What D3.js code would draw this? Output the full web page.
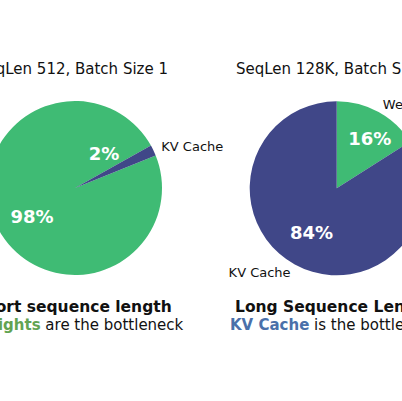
<!DOCTYPE html>
<html>
<head>
<meta charset="utf-8">
<script src="https://cdn.jsdelivr.net/npm/d3@7/dist/d3.min.js"></script>
<style>
  html, body { margin: 0; padding: 0; background: #fff; }
  svg { display: block; font-family: "DejaVu Sans", sans-serif; }
</style>
</head>
<body>
<svg id="chart" width="402" height="401"></svg>
<script>
// Memory split, two scenarios.
const categories = ["Weights", "KV Cache"];
const shortSeqValues = [98, 2];
const longSeqValues = [16, 84];
const titles = ["SeqLen 512, Batch Size 1", "SeqLen 128K, Batch Size 1"];
const headlines = ["Short sequence length", "Long Sequence Length"];
const bottleneckCats = ["Weights", "KV Cache"];
const bottleneckTail = [" are the bottleneck", " is the bottleneck"];

const colours = { "Weights": "#3fbb74", "KV Cache": "#404788" };
const textColours = { "Weights": "#62a352", "KV Cache": "#4a70aa" };

const svg = d3.select("#chart");
const R = 87;
const deg = Math.PI / 180;

// One panel per scenario. Pie centres / start angles tuned to the reference crop.
const panels = [
  { values: shortSeqValues, cx: 75, cy: 188, start: 68 * deg,
    title: titles[0], titleX: 168, titleAnchor: "end",
    pctNudge: [[4, 6], [-18, -12]] },
  { values: longSeqValues, cx: 336.7, cy: 188.3, start: 0,
    title: titles[1], titleX: 236, titleAnchor: "start",
    pctNudge: [[8, -4], [0, -2]] }
];

const arc = d3.arc().innerRadius(0).outerRadius(R);

panels.forEach((p) => {
  const pie = d3.pie().sort(null).startAngle(p.start).endAngle(p.start + 2 * Math.PI);
  const rows = categories.map((c, i) => ({ cat: c, v: p.values[i] }));
  const arcs = pie.value((d) => d.v)(rows);
  const g = svg.append("g").attr("transform", `translate(${p.cx},${p.cy})`);

  g.selectAll("path")
    .data(arcs)
    .join("path")
    .attr("d", arc)
    .attr("fill", (d) => colours[d.data.cat]);

  // Percent labels at 0.6 r on the mid-angle (with a small nudge).
  g.selectAll("text.pct")
    .data(arcs)
    .join("text")
    .attr("class", "pct")
    .each(function (d, i) {
      const mid = (d.startAngle + d.endAngle) / 2;
      const [x, y] = d3.pointRadial(mid, R * 0.6);
      d3.select(this)
        .attr("x", x + p.pctNudge[i][0])
        .attr("y", y + p.pctNudge[i][1]);
    })
    .attr("text-anchor", "middle")
    .attr("dy", "0.36em")
    .attr("font-size", 18)
    .attr("font-weight", "bold")
    .attr("fill", "#fff")
    .text((d) => `${d.data.v}%`);

  // Category labels at 1.1 r, anchored away from the pie.
  g.selectAll("text.cat")
    .data(arcs)
    .join("text")
    .attr("class", "cat")
    .each(function (d) {
      const mid = (d.startAngle + d.endAngle) / 2;
      const [x, y] = d3.pointRadial(mid, R * 1.1);
      d3.select(this)
        .attr("x", x)
        .attr("y", y)
        .attr("text-anchor", x > 0 ? "start" : "end");
    })
    .attr("dy", "0.36em")
    .attr("font-size", 13)
    .attr("fill", "#111")
    .text((d) => d.data.cat);

  svg.append("text")
    .attr("x", p.titleX)
    .attr("y", 74)
    .attr("text-anchor", p.titleAnchor)
    .attr("font-size", 15)
    .attr("fill", "#111")
    .text(p.title);
});

// Captions under the pies.
const captions = [
  { x1: 171.7, x2: 183.3, anchor: "end" },
  { x1: 235, x2: 230, anchor: "start" }
];
captions.forEach((c, i) => {
  svg.append("text")
    .attr("x", c.x1)
    .attr("y", 311.5)
    .attr("text-anchor", c.anchor)
    .attr("font-size", 15.5)
    .attr("font-weight", "bold")
    .attr("fill", "#111")
    .text(headlines[i]);

  const t = svg.append("text")
    .attr("x", c.x2)
    .attr("y", 330)
    .attr("text-anchor", c.anchor)
    .attr("font-size", 15)
    .attr("fill", "#111");
  t.append("tspan")
    .attr("font-weight", "bold")
    .attr("fill", textColours[bottleneckCats[i]])
    .text(bottleneckCats[i]);
  t.append("tspan").text(bottleneckTail[i]);
});
</script>
</body>
</html>
